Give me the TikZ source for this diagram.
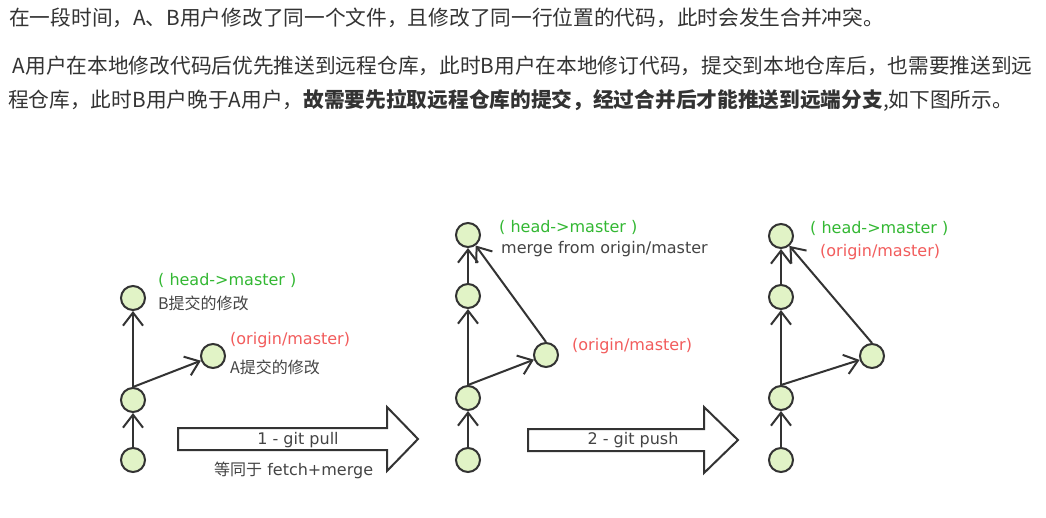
\documentclass[tikz,border=0pt]{standalone}
\usepackage{fontspec}
\setmainfont{DejaVu Sans}
\newfontfamily\cjk{Noto Sans CJK SC}
\usetikzlibrary{arrows.meta}
\definecolor{commitfill}{HTML}{E1F3C6}
\definecolor{linegray}{HTML}{333333}
\definecolor{bodygray}{HTML}{333333}
\definecolor{labelgray}{HTML}{444444}
\definecolor{headgreen}{HTML}{33B833}
\definecolor{origred}{HTML}{F25C5C}
\begin{document}
\begin{tikzpicture}[x=1pt,y=-1pt,>={Straight Barb[length=13pt,width=20pt]},
commit/.style={circle,draw=linegray,fill=commitfill,line width=2pt,minimum size=24pt,inner sep=0pt},
edge/.style={->,draw=linegray,line width=2pt},
para/.style={anchor=base west,inner sep=0pt,text=bodygray,font=\cjk\fontsize{20.7}{24}\selectfont},
tag/.style={anchor=west,inner sep=0pt,font=\fontsize{16}{18}\selectfont},
head/.style={tag,text=headgreen},
origin/.style={tag,text=origred},
note/.style={tag,text=labelgray},
bigarrow/.style={draw=linegray,fill=white,line width=2pt,line join=miter}]
\fill[white] (0,0) rectangle (1046,517);
\useasboundingbox (0,0) rectangle (1046,517);
% text above the diagram
\node[para] (p1) at (9,25) {在一段时间，A、B用户修改了同一个文件，且修改了同一行位置的代码，此时会发生合并冲突。};
\node[para] (p2) at (8,73.5) {\ A用户在本地修改代码后优先推送到远程仓库，此时B用户在本地修订代码，提交到本地仓库后，也需要推送到远};
\node[para] (p3) at (8,107.5) {程仓库，此时B用户晚于A用户，\textbf{故需要先拉取远程仓库的提交，经过合并后才能推送到远端分支},如下图所示。};
% before pull
\node[commit] (a1) at (133,460) {};
\node[commit] (a2) at (133,400) {};
\node[commit] (a3) at (133,298) {};
\node[commit] (a4) at (213,356) {};
\draw[edge] (a1)--(a2);\draw[edge] (a2)--(a3);\draw[edge] (a2.north)--(a4);
\node[head] (ah) at (158,280) {( head->master )};
\node[note] (an) at (158,303) {\cjk B提交的修改};
\node[origin] (ao) at (230,340) {(origin/master)};
\node[note] (am) at (230,367) {\cjk A提交的修改};
% pull
\draw[bigarrow] (178,428)--(387,428)--(387,407)--(418,439)--(387,471)--(387,450)--(178,450)--cycle;
\node[note,anchor=center] (pull) at (298,440) {1 - git pull};
\node[note] (pulln) at (214,470) {{\cjk 等同于} fetch+merge};
% after pull
\node[commit] (b1) at (468,460) {};
\node[commit] (b2) at (468,398) {};
\node[commit] (b3) at (468,296) {};
\node[commit] (b4) at (468,235) {};
\node[commit] (b5) at (546,355) {};
\draw[edge] (b1)--(b2);\draw[edge] (b2)--(b3);\draw[edge] (b3)--(b4);
\draw[edge] (b2.north)--(b5);\draw[edge] (b5.north)--(b4);
\node[head] (bh) at (499,227) {( head->master )};
\node[note] (bm) at (501,249) {merge from origin/master};
\node[origin] (bo) at (572,346) {(origin/master)};
% push
\draw[bigarrow] (528,429)--(704,429)--(704,407)--(738,440)--(704,473)--(704,451)--(528,451)--cycle;
\node[note,anchor=center] (push) at (633,440) {2 - git push};
% after push
\node[commit] (c1) at (781,460) {};
\node[commit] (c2) at (781,398) {};
\node[commit] (c3) at (781,297) {};
\node[commit] (c4) at (781,236) {};
\node[commit] (c5) at (872,356) {};
\draw[edge] (c1)--(c2);\draw[edge] (c2)--(c3);\draw[edge] (c3)--(c4);
\draw[edge] (c2.north)--(c5);\draw[edge] (c5.north)--(c4);
\node[head] (ch) at (810,228) {( head->master )};
\node[origin] (co) at (820,252) {(origin/master)};
\end{tikzpicture}
\end{document}
